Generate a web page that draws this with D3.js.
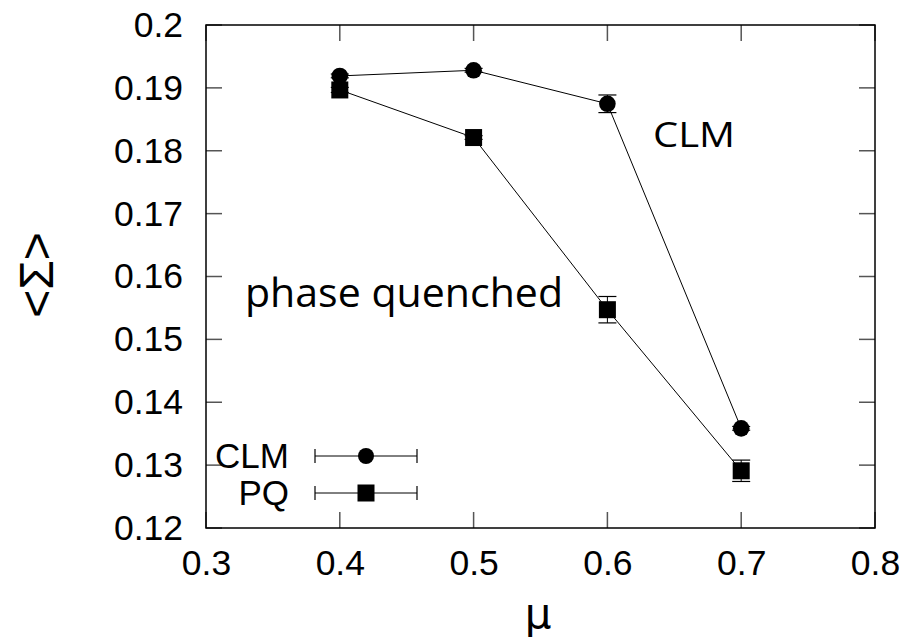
<!DOCTYPE html>
<html><head><meta charset="utf-8">
<script src="https://cdn.jsdelivr.net/npm/d3@7"></script>
<style>html,body{margin:0;padding:0;background:#fff;overflow:hidden}</style>
</head><body>
<script>
const mu = [0.4, 0.5, 0.6, 0.7];
const clmVals = [0.1919, 0.1928, 0.18747, 0.13585];
const clmErr = [0.0003, 0.0003, 0.0014, 0.0003];
const pqVals = [0.18967, 0.1821, 0.15472, 0.1291];
const pqErr = [0.0004, 0.0003, 0.0021, 0.0017];
const xTicks = [0.3, 0.4, 0.5, 0.6, 0.7, 0.8];
const yTicks = [0.12, 0.13, 0.14, 0.15, 0.16, 0.17, 0.18, 0.19, 0.2];
const legendLabels = ["CLM", "PQ"];

const W = 908, H = 643;
const L = 206, R = 875, T = 25, B = 528;
const svg = d3.select("body").append("svg").attr("width", 902).attr("height", H);

const x = d3.scaleLinear().domain([0.3, 0.8]).range([L, R]);
const y = d3.scaleLinear().domain([0.12, 0.2]).range([B, T]);

const tickCol = "#555";
const g = svg.append("g");
xTicks.forEach(v => {
  g.append("line").attr("x1", x(v)).attr("x2", x(v)).attr("y1", B).attr("y2", B - 16).attr("stroke", tickCol).attr("stroke-width", 1.5);
  g.append("line").attr("x1", x(v)).attr("x2", x(v)).attr("y1", T).attr("y2", T + 16).attr("stroke", tickCol).attr("stroke-width", 1.5);
});
yTicks.forEach(v => {
  g.append("line").attr("x1", L).attr("x2", L + 16).attr("y1", y(v)).attr("y2", y(v)).attr("stroke", tickCol).attr("stroke-width", 1.5);
  g.append("line").attr("x1", R).attr("x2", R - 16).attr("y1", y(v)).attr("y2", y(v)).attr("stroke", tickCol).attr("stroke-width", 1.5);
});

const xAxis = d3.axisBottom(x).tickValues(xTicks).tickSize(0).tickPadding(24).tickFormat(d3.format(".1~f"));
const yAxis = d3.axisLeft(y).tickValues(yTicks).tickSize(0).tickPadding(23).tickFormat(d => d3.format(".2~f")(d));
const gx = svg.append("g").attr("transform", `translate(0,${B})`).call(xAxis);
const gy = svg.append("g").attr("transform", `translate(${L},0)`).call(yAxis);
[gx, gy].forEach(a => {
  a.select(".domain").remove();
  a.selectAll("text").attr("font-family", "Liberation Sans, Arial, sans-serif").attr("font-size", 35.5).attr("fill", "#000");
});
gx.selectAll("text").attr("dy", "0.71em").attr("y", 22);

svg.append("rect").attr("x", L).attr("y", T).attr("width", R - L).attr("height", B - T)
  .attr("fill", "none").attr("stroke", "#000").attr("stroke-width", 1.5);

const line = d3.line().x((d, i) => x(mu[i])).y(d => y(d));
svg.append("path").attr("d", line(clmVals)).attr("fill", "none").attr("stroke", "#000").attr("stroke-width", 1);
svg.append("path").attr("d", line(pqVals)).attr("fill", "none").attr("stroke", "#000").attr("stroke-width", 1);

function errBars(vals, errs) {
  vals.forEach((v, i) => {
    const cx = x(mu[i]), y1 = y(v + errs[i]), y2 = y(v - errs[i]);
    svg.append("line").attr("x1", cx).attr("x2", cx).attr("y1", y1).attr("y2", y2).attr("stroke", "#000").attr("stroke-width", 1);
    [y1, y2].forEach(yy => svg.append("line").attr("x1", cx - 9).attr("x2", cx + 9).attr("y1", yy).attr("y2", yy).attr("stroke", "#000").attr("stroke-width", 1.2));
  });
}
errBars(clmVals, clmErr);
errBars(pqVals, pqErr);

svg.selectAll(".clm").data(clmVals).enter().append("circle")
  .attr("cx", (d, i) => x(mu[i])).attr("cy", d => y(d)).attr("r", 8.3).attr("fill", "#000");
svg.selectAll(".pq").data(pqVals).enter().append("rect")
  .attr("x", (d, i) => x(mu[i]) - 8.5).attr("y", d => y(d) - 8.5).attr("width", 17).attr("height", 17).attr("fill", "#000");

svg.append("text").attr("x", 245).attr("y", 307).attr("font-family", "Open Sans, Lato, sans-serif")
  .attr("font-size", 40).attr("textLength", 318).attr("lengthAdjust", "spacingAndGlyphs").text("phase quenched");
svg.append("text").attr("x", 653).attr("y", 147).attr("font-family", "Open Sans, Lato, sans-serif")
  .attr("font-size", 35).attr("textLength", 82).attr("lengthAdjust", "spacingAndGlyphs").text("CLM");

const legY = [456, 493];
legendLabels.forEach((lab, i) => {
  const yy = legY[i];
  svg.append("text").attr("x", 289).attr("y", yy + 12).attr("text-anchor", "end")
    .attr("font-family", "Liberation Sans, Arial, sans-serif").attr("font-size", 35).text(lab);
  svg.append("line").attr("x1", 315).attr("x2", 417).attr("y1", yy).attr("y2", yy).attr("stroke", "#000").attr("stroke-width", 1);
  [315, 417].forEach(xx => svg.append("line").attr("x1", xx).attr("x2", xx).attr("y1", yy - 7).attr("y2", yy + 7).attr("stroke", "#000").attr("stroke-width", 1.2));
  if (i === 0) svg.append("circle").attr("cx", 366).attr("cy", yy).attr("r", 8).attr("fill", "#000");
  else svg.append("rect").attr("x", 366 - 8.5).attr("y", yy - 8.5).attr("width", 17).attr("height", 17).attr("fill", "#000");
});

svg.append("text").attr("x", 538).attr("y", 628).attr("text-anchor", "middle")
  .attr("font-family", "DejaVu Sans, sans-serif").attr("font-size", 42).text("μ");
svg.append("text").attr("transform", "translate(53,275) rotate(-90)").attr("text-anchor", "middle")
  .attr("font-family", "Liberation Sans, Arial, sans-serif").attr("font-size", 48).text("<Σ>");
</script>
</body></html>
